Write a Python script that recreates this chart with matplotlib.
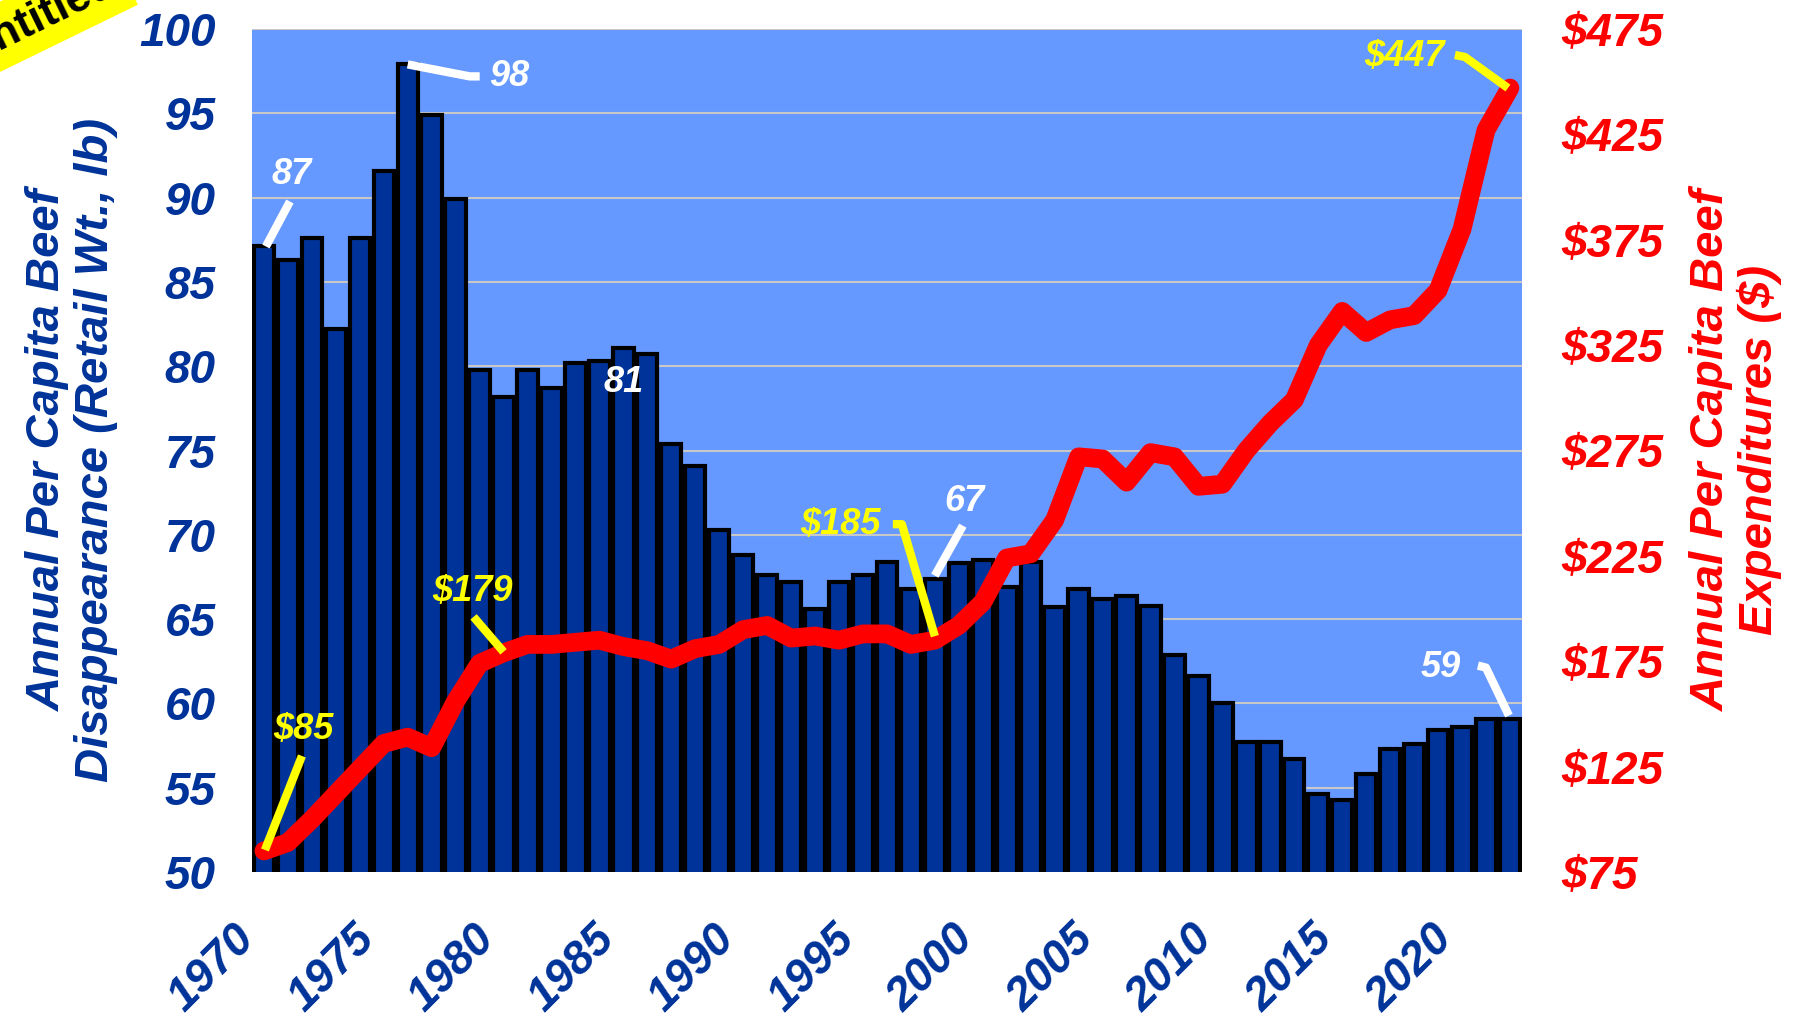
import numpy as np
import matplotlib
matplotlib.use("Agg")
import matplotlib.pyplot as plt

plt.rcParams['font.family'] = ['Liberation Sans', 'DejaVu Sans']
plt.rcParams['font.weight'] = 'bold'
plt.rcParams['font.style'] = 'italic'

years = list(range(1970, 2023))
# per capita beef disappearance, lb retail weight
beef_lbs = [87.1, 86.3, 87.6, 82.2, 87.6, 91.6, 97.9, 94.9, 89.9, 79.8,
            78.2, 79.8, 78.7, 80.2, 80.3, 81.1, 80.7, 75.4, 74.1, 70.3,
            68.8, 67.6, 67.2, 65.6, 67.2, 67.6, 68.4, 66.8, 67.4, 68.3,
            68.5, 66.9, 68.4, 65.7, 66.8, 66.2, 66.4, 65.8, 62.9, 61.6,
            60.0, 57.7, 57.7, 56.7, 54.6, 54.3, 55.8, 57.3, 57.6, 58.4,
            58.6, 59.1, 59.1]
# per capita beef expenditures, $
beef_spend = [85, 89, 100, 112, 124, 136, 139, 134, 156, 174,
              179, 183, 183, 184, 185, 182, 180, 176, 181, 183,
              190, 192, 186, 187, 185, 188, 188, 183, 185, 192,
              203, 224, 226, 242, 272, 271, 260, 274, 272, 258,
              259, 275, 288, 299, 325, 341, 331, 337, 339, 351,
              380, 427, 447]
year_ticks = [1970, 1975, 1980, 1985, 1990, 1995, 2000, 2005, 2010, 2015, 2020]
lbs_ticks = [50, 55, 60, 65, 70, 75, 80, 85, 90, 95, 100]
spend_ticks = [75, 125, 175, 225, 275, 325, 375, 425, 475]

BLUE = "#003399"
RED = "#FF0000"
YELLOW = "#FFFF00"


def leader(ax, x, y, offsets, color):
    base = ax.transData.transform((x, y))
    pts = ax.transData.inverted().transform([base + np.array(o) for o in offsets])
    ax.plot(pts[:, 0], pts[:, 1], color=color, lw=6, solid_capstyle="butt",
            clip_on=False, zorder=6)


def label(ax, x, y, text, offset, color):
    ax.annotate(text, xy=(x, y), xytext=offset, textcoords="offset pixels",
                ha="center", va="center", color=color, fontsize=26,
                fontweight="bold", fontstyle="italic", zorder=7)


fig = plt.figure(figsize=(18.06, 10.24), dpi=100)
ax = fig.add_axes([0.1395, 0.1484, 0.7032, 0.8233])
ax.set_facecolor("#6699FF")
ax.bar(years, beef_lbs, width=0.85, color=BLUE, edgecolor="black", linewidth=3, zorder=2)
ax.set_xlim(1969.5, 2022.5)
ax.set_ylim(50, 100)
ax.set_yticks(lbs_ticks)
ax.set_xticks(year_ticks)
ax.grid(axis="y", color="#C8C8C8", lw=1.5)
ax.set_axisbelow(True)
for s in ax.spines.values():
    s.set_visible(False)
ax.tick_params(axis="y", length=0, pad=26, labelsize=33, labelcolor=BLUE)
ax.tick_params(axis="x", length=0, pad=32, labelsize=33, labelcolor=BLUE)
for t in ax.get_xticklabels():
    t.set_rotation(45)
    t.set_ha("right")
    t.set_va("top")

ax2 = ax.twinx()
ax2.plot(years, beef_spend, color=RED, lw=13.5, solid_capstyle="round",
         solid_joinstyle="round", zorder=3)
ax2.set_ylim(75, 475)
ax2.set_yticks(spend_ticks)
ax2.set_yticklabels(["$%d" % v for v in spend_ticks])
for s in ax2.spines.values():
    s.set_visible(False)
ax2.tick_params(axis="y", length=0, pad=28, labelsize=33, labelcolor=RED)

fig.text(0.0399, 0.5605, "Annual Per Capita Beef\nDisappearance (Retail Wt., lb)",
         rotation=90, ha="center", va="center", multialignment="center",
         fontsize=34, color=BLUE, linespacing=1.1)
fig.text(0.9612, 0.5605, "Annual Per Capita Beef\nExpenditures ($)",
         rotation=90, ha="center", va="center", multialignment="center",
         fontsize=34, color=RED, linespacing=1.1)

# white labels on bars
i = years.index
leader(ax, 1970, beef_lbs[i(1970)], [(2, 0), (26, 45)], "white")
label(ax, 1970, beef_lbs[i(1970)], "87", (28, 72), "white")
leader(ax, 1976, beef_lbs[i(1976)], [(0, 0), (62, -12), (72, -12)], "white")
label(ax, 1976, beef_lbs[i(1976)], "98", (102, -12), "white")
label(ax, 1985, beef_lbs[i(1985)], "81", (0, -35), "white")
leader(ax, 1998, beef_lbs[i(1998)], [(0, 3), (28, 53)], "white")
label(ax, 1998, beef_lbs[i(1998)], "67", (30, 77), "white")
leader(ax, 2022, beef_lbs[i(2022)], [(-32, 53), (-24, 51), (-1, 3)], "white")
label(ax, 2022, beef_lbs[i(2022)], "59", (-69, 51), "white")

# yellow labels on the spending line
leader(ax2, 1970, beef_spend[i(1970)], [(1, 1), (38, 95)], YELLOW)
label(ax2, 1970, beef_spend[i(1970)], "$85", (39, 121), YELLOW)
leader(ax2, 1980, beef_spend[i(1980)], [(0, 1), (-30, 36)], YELLOW)
label(ax2, 1980, beef_spend[i(1980)], "$179", (-31, 61), YELLOW)
leader(ax2, 1998, beef_spend[i(1998)], [(0, 4), (-33, 116), (-42, 116)], YELLOW)
label(ax2, 1998, beef_spend[i(1998)], "$185", (-94, 116), YELLOW)
leader(ax2, 2022, beef_spend[i(2022)], [(-2, 0), (-45, 31), (-55, 33)], YELLOW)
label(ax2, 2022, beef_spend[i(2022)], "$447", (-105, 31), YELLOW)

fig.text(0.022, 0.983, "Untitled", rotation=26, ha="center", va="center",
         fontsize=32, color="black", fontstyle="normal",
         bbox=dict(facecolor=YELLOW, edgecolor="none", pad=8))

fig.savefig("out.png", dpi=100)
